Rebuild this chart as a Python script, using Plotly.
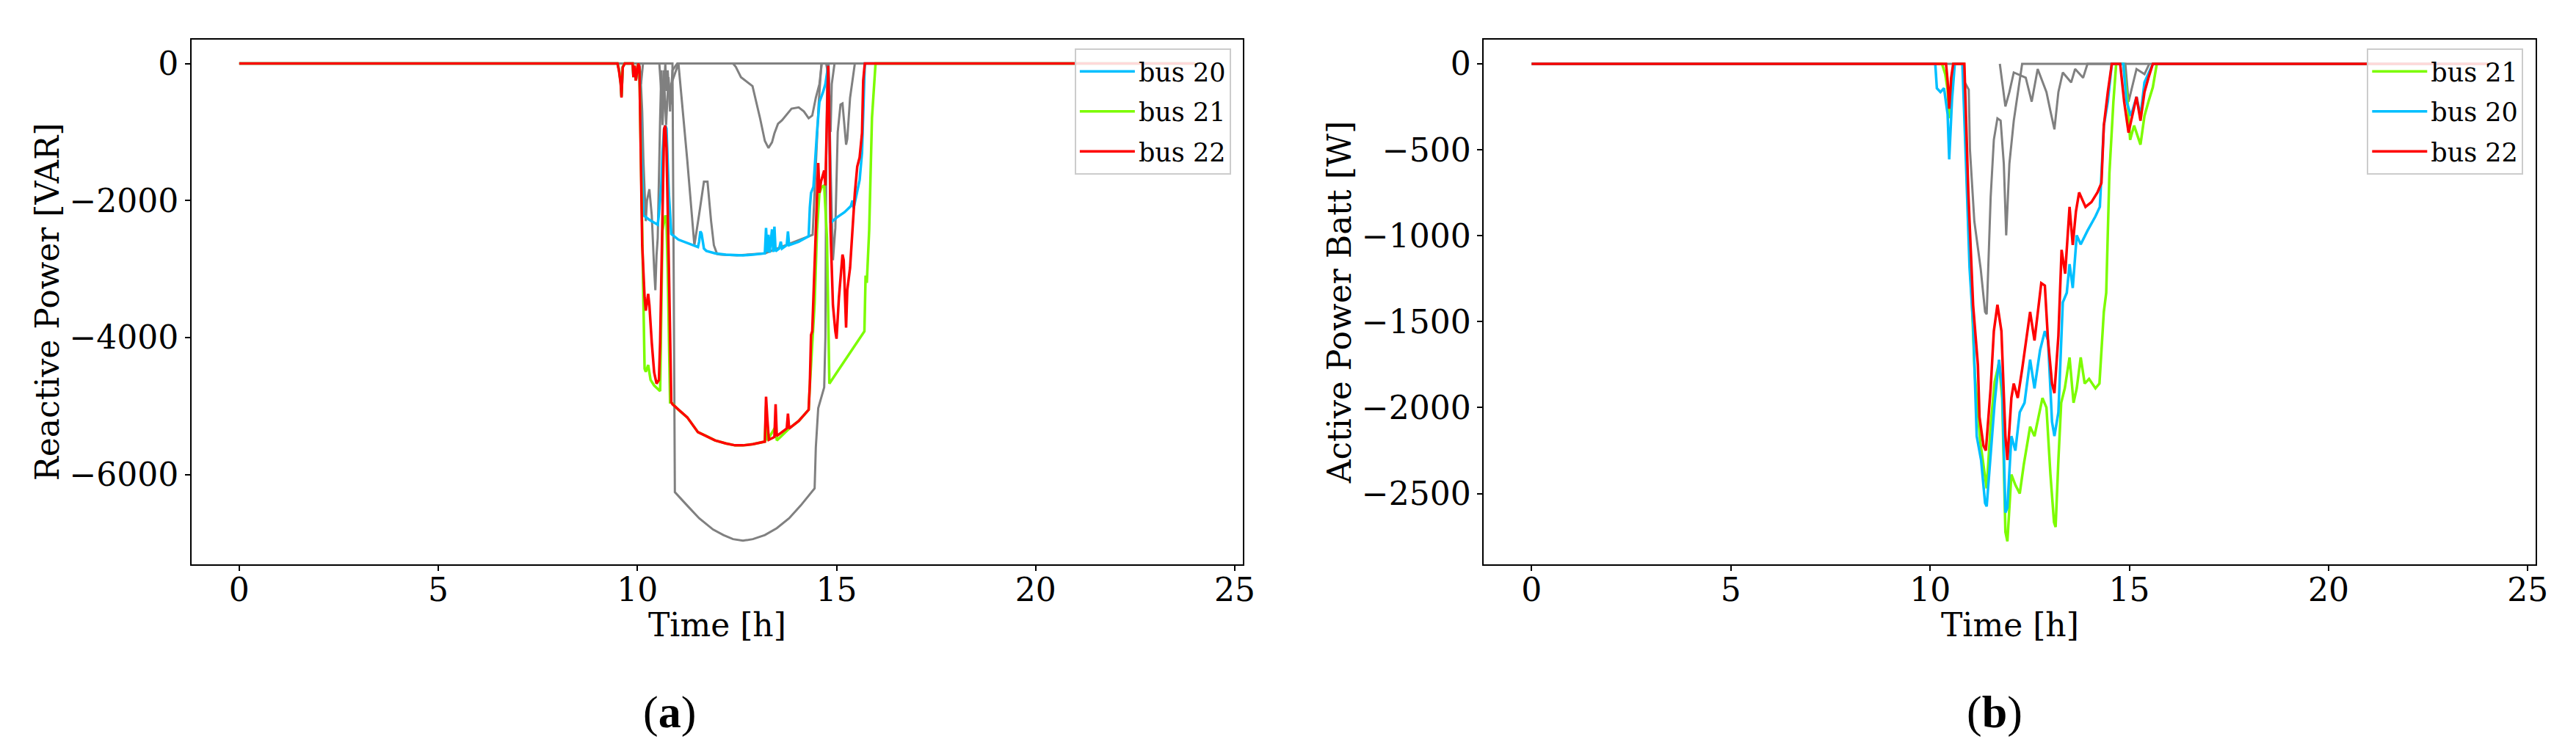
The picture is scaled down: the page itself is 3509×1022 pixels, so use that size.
import plotly.graph_objects as go

# ---------------- Panel (a): Reactive Power [VAR] ----------------
a_t_bus20 = [0, 9.50, 9.54, 9.58, 9.60, 9.63, 9.68, 9.88, 9.90, 9.93, 9.96, 10.02, 10.05, 10.09, 10.12, 10.15,
             10.30, 10.45, 10.51, 10.54, 10.60, 10.63, 10.67, 10.70, 10.73, 10.79, 10.85, 11.03, 11.25, 11.52,
             11.55, 11.58, 11.61, 11.67, 11.73, 11.95, 12.22, 12.45, 12.65, 12.90, 13.20, 13.23, 13.26, 13.29,
             13.32, 13.38, 13.41, 13.44, 13.47, 13.56, 13.60, 13.63, 13.75, 13.78, 13.81, 14.05, 14.30, 14.33,
             14.36, 14.42, 14.45, 14.51, 14.57, 14.63, 14.66, 14.72, 14.79, 14.82, 14.85, 15.00, 15.20, 15.36,
             15.40, 15.43, 15.52, 15.58, 15.64, 15.67, 15.71, 24]
a_v_bus20 = [0, 0, -100, -280, -480, -50, 0, 0, -200, -30, -250, 0, -100, -1100, -1800, -2216,
             -2280, -2330, -2352, -2200, -1780, -1300, -950, -906, -950, -1900, -2488, -2570, -2620, -2679,
             -2600, -2450, -2480, -2700, -2734, -2770, -2789, -2795, -2800, -2790, -2770, -2400, -2750, -2500,
             -2760, -2420, -2750, -2380, -2740, -2700, -2600, -2700, -2650, -2450, -2650, -2600, -2521, -2100,
             -1888, -1800, -1500, -1000, -560, -480, -420, -300, -33, -800, -2325, -2250, -2170, -2080,
             -2000, -2112, -1888, -1700, -1300, -600, 0, 0]

a_t_bus21 = [0, 9.50, 9.54, 9.58, 9.60, 9.63, 9.68, 9.88, 9.90, 9.93, 9.96, 10.02, 10.05, 10.12, 10.18, 10.21,
             10.27, 10.33, 10.42, 10.57, 10.60, 10.63, 10.70, 10.73, 10.76, 10.82, 10.85, 11.03, 11.25, 11.52,
             11.73, 11.95, 12.22, 12.45, 12.65, 12.90, 13.20, 13.23, 13.26, 13.47, 13.50, 13.81, 14.05, 14.30,
             14.33, 14.36, 14.45, 14.51, 14.57, 14.63, 14.69, 14.76, 14.82, 15.70, 15.73, 15.76, 15.82, 15.89,
             15.98, 24]
a_v_bus21 = [0, 0, -100, -280, -480, -50, 0, 0, -200, -30, -250, 0, -100, -2600, -4453, -4500,
             -4398, -4617, -4698, -4780, -3500, -2434, -2216, -2300, -2980, -4944, -4944, -5053, -5162, -5380,
             -5435, -5500, -5544, -5572, -5572, -5555, -5517, -5000, -5500, -5300, -5500, -5326, -5217, -5053,
             -4700, -4398, -3500, -2434, -1888, -1800, -1779, -2548, -4671, -3907, -3094, -3200, -2434, -797,
             0, 0]

a_t_bus22 = [0, 9.50, 9.54, 9.58, 9.60, 9.63, 9.68, 9.88, 9.90, 9.93, 9.96, 10.02, 10.05, 10.12, 10.18, 10.21,
             10.27, 10.30, 10.36, 10.42, 10.48, 10.54, 10.57, 10.63, 10.67, 10.70, 10.73, 10.79, 10.85, 10.88,
             11.03, 11.25, 11.52, 11.73, 11.95, 12.22, 12.45, 12.65, 12.90, 13.20, 13.23, 13.26, 13.30, 13.44,
             13.47, 13.50, 13.75, 13.78, 13.81, 14.05, 14.30, 14.33, 14.36, 14.39, 14.45, 14.51, 14.54, 14.57,
             14.61, 14.69, 14.72, 14.79, 14.82, 14.85, 14.91, 14.97, 15.00, 15.06, 15.15, 15.18, 15.24, 15.27,
             15.34, 15.40, 15.46, 15.52, 15.58, 15.64, 15.67, 15.71, 24]
a_v_bus22 = [0, 0, -120, -300, -497, -60, 0, 0, -200, -30, -250, 0, -50, -2652, -3416, -3607,
             -3362, -3525, -4071, -4507, -4671, -4617, -4071, -2434, -960, -906, -1233, -2980, -4944, -4971,
             -5053, -5162, -5380, -5435, -5500, -5544, -5572, -5572, -5555, -5517, -4862, -5162, -5490, -5450,
             -4971, -5435, -5326, -5108, -5326, -5217, -5053, -4671, -3962, -3907, -2980, -1834, -1452, -1888,
             -1724, -1561, -1779, -33, -797, -2434, -3525, -3907, -4016, -3416, -2789, -2870, -3853, -3307,
             -2980, -2434, -1888, -1506, -1370, -1015, -251, 0, 0]

a_t_gray1 = [0, 10.88, 10.91, 10.94, 11.25, 11.55, 11.90, 12.16, 12.40, 12.65, 12.90, 13.20, 13.50, 13.81,
             14.10, 14.45, 14.48, 14.54, 14.69, 14.72, 14.74, 14.77, 18]
a_v_gray1 = [0, 0, -3000, -6254, -6450, -6636, -6800, -6881, -6940, -6963, -6940, -6881, -6780, -6636,
             -6450, -6199, -5600, -5031, -4726, -4000, -1500, 0, 0]

a_t_gray2 = [12.40, 12.47, 12.60, 12.71, 12.89, 13.08, 13.20, 13.29, 13.38, 13.44, 13.53, 13.63, 13.75, 13.87,
             14.05, 14.18, 14.30, 14.39, 14.48, 14.57, 14.63]
a_v_gray2 = [0, -50, -200, -250, -330, -800, -1130, -1233, -1150, -1020, -880, -829, -750, -660,
             -640, -700, -800, -760, -500, -300, 0]

a_t_gray3 = [10.02, 10.08, 10.12, 10.15, 10.21, 10.24, 10.30, 10.36, 10.42, 10.45, 10.48, 10.51, 10.57, 10.60,
             10.63, 10.67, 10.70, 10.73, 10.76, 10.82, 10.85, 10.91, 11.03, 11.25, 11.43, 11.55, 11.67, 11.76,
             11.85, 11.92, 12.00, 12.10, 12.50, 13.20, 14.30, 14.40, 14.55, 14.62, 14.80, 14.85, 14.91, 14.97,
             15.03, 15.10, 15.15, 15.24, 15.27, 15.34, 15.46]
a_v_gray3 = [0, -200, -700, -1400, -2300, -2000, -1834, -2216, -3000, -3307, -2800, -2543, -800, -100,
             -900, -300, 0, -400, -100, -700, -300, -200, 0, -1400, -2652, -2200, -1724, -1724,
             -2300, -2652, -2780, -2790, -2800, -2770, -2530, -2500, -600, 0, 0, -1500, -2870, -2400,
             -1000, -600, -584, -1184, -1100, -500, 0]

a_t_gray4 = [10.05, 10.09, 10.14, 10.55, 10.62, 10.66, 10.72, 10.78, 10.83, 10.88, 11.00, 14.74, 14.80, 14.85,
             14.88, 14.95]
a_v_gray4 = [0, -300, 0, 0, -600, -100, -900, -200, -600, -100, 0, 0, -200, -1000, -300, 0]

# ---------------- Panel (b): Active Power Batt [W] ----------------
b_t_bus21 = [0, 10.30, 10.38, 10.44, 10.48, 10.53, 10.60, 10.84, 10.93, 11.03, 11.12, 11.26, 11.42, 11.52,
             11.62, 11.73, 11.81, 11.89, 11.94, 12.04, 12.14, 12.25, 12.35, 12.51, 12.62, 12.72, 12.82, 12.92,
             13.02, 13.11, 13.15, 13.22, 13.29, 13.38, 13.43, 13.50, 13.60, 13.68, 13.78, 13.88, 13.99, 14.15,
             14.25, 14.36, 14.42, 14.50, 14.60, 14.67, 14.85, 14.95, 15.02, 15.12, 15.28, 15.38, 15.48, 15.59,
             15.69, 24]
b_v_bus21 = [0, 0, -60, -150, -317, -100, 0, 0, -700, -1300, -1800, -2200, -2470, -2100,
             -1850, -1740, -1950, -2723, -2778, -2389, -2450, -2500, -2333, -2111, -2166, -2055, -1944, -2000,
             -2389, -2667, -2695, -2305, -1972, -1888, -1805, -1708, -1972, -1888, -1708, -1860, -1833, -1888,
             -1860, -1443, -1332, -637, -220, 0, 0, -200, -442, -359, -470, -303, -220, -136,
             0, 0]

b_t_bus20 = [0, 10.13, 10.17, 10.26, 10.35, 10.44, 10.48, 10.55, 10.62, 10.81, 10.90, 10.99, 11.08, 11.17,
             11.28, 11.38, 11.42, 11.52, 11.62, 11.73, 11.81, 11.89, 11.94, 12.04, 12.14, 12.25, 12.37, 12.51,
             12.62, 12.76, 12.88, 12.96, 13.06, 13.12, 13.22, 13.33, 13.43, 13.50, 13.58, 13.68, 13.78, 13.95,
             14.15, 14.26, 14.36, 14.46, 14.56, 14.85, 14.93, 15.04, 15.18, 15.28, 15.38, 15.59, 24]
b_v_bus20 = [0, 0, -142, -164, -142, -294, -556, -209, 0, 0, -577, -1186, -1514, -2166,
             -2305, -2556, -2575, -2250, -1972, -1721, -1888, -2611, -2583, -2166, -2250, -2027, -1972, -1721,
             -1888, -1666, -1555, -1610, -2083, -2166, -2027, -1388, -1332, -1165, -1304, -998, -1050, -971,
             -887, -832, -359, -220, 0, 0, -220, -303, -192, -303, -108, 0, 0]

b_t_bus22 = [0, 10.40, 10.44, 10.48, 10.53, 10.58, 10.86, 10.96, 11.08, 11.20, 11.24, 11.34, 11.40, 11.52,
             11.60, 11.69, 11.79, 11.89, 11.94, 12.04, 12.10, 12.20, 12.31, 12.41, 12.51, 12.62, 12.72, 12.79,
             12.88, 12.96, 13.06, 13.12, 13.22, 13.30, 13.39, 13.50, 13.58, 13.66, 13.74, 13.90, 14.05, 14.20,
             14.30, 14.36, 14.46, 14.56, 14.77, 14.87, 14.98, 15.08, 15.18, 15.28, 15.38, 15.48, 15.59, 24]
b_v_bus22 = [0, 0, -100, -261, -80, 0, 0, -751, -1404, -1753, -2055, -2222, -2250, -1888,
             -1555, -1402, -1555, -2166, -2305, -1944, -1860, -1944, -1777, -1610, -1443, -1610, -1416, -1276,
             -1290, -1610, -1860, -1916, -1582, -1082, -1221, -832, -1054, -859, -748, -832, -804, -748,
             -693, -359, -164, 0, 0, -220, -400, -303, -192, -331, -164, -81, 0, 0]

b_t_gray1 = [0, 10.85, 10.87, 10.97, 11.00, 11.11, 11.27, 11.38, 11.42, 11.52, 11.60, 11.69, 11.77, 11.85,
             11.91, 11.99, 12.10, 12.20, 12.31, 24]
b_v_gray1 = [0, 0, -108, -150, -498, -915, -1193, -1443, -1457, -776, -442, -317, -330, -581,
             -998, -581, -331, -164, 0, 0]

b_t_gray2 = [11.75, 11.89, 11.99, 12.10, 12.40, 12.55, 12.70, 12.92, 13.02, 13.12, 13.22, 13.33, 13.54, 13.64,
             13.84, 13.95, 14.90, 14.98, 15.18, 15.38, 15.50]
b_v_gray2 = [0, -248, -164, -50, -80, -220, -30, -164, -275, -381, -164, -50, -108, -30,
             -81, 0, 0, -220, -30, -60, 0]

x_ticks = [0, 5, 10, 15, 20, 25]
a_y_ticks = [0, -2000, -4000, -6000]
b_y_ticks = [0, -500, -1000, -1500, -2000, -2500]

BLUE = "#00BFFF"
GREEN = "#7CFC00"
RED = "#FF0000"
GRAY = "#808080"
FONT = "DejaVu Serif"

fig = go.Figure()


def add(t, v, color, xa, ya, name=None, legend=None):
    fig.add_trace(go.Scatter(
        x=t, y=v, mode="lines", xaxis=xa, yaxis=ya,
        line=dict(color=color, width=3.5 if name else 3),
        name=name if name else "other bus",
        showlegend=name is not None,
        legend=legend if legend else "legend",
        legendgroup=(legend or "") + (name or "other"),
        hoverinfo="x+y+name",
    ))


# panel a
for t, v in [(a_t_gray1, a_v_gray1), (a_t_gray2, a_v_gray2), (a_t_gray3, a_v_gray3), (a_t_gray4, a_v_gray4)]:
    add(t, v, GRAY, "x", "y")
add(a_t_bus20, a_v_bus20, BLUE, "x", "y", "bus 20", "legend")
add(a_t_bus21, a_v_bus21, GREEN, "x", "y", "bus 21", "legend")
add(a_t_bus22, a_v_bus22, RED, "x", "y", "bus 22", "legend")

# panel b
for t, v in [(b_t_gray1, b_v_gray1), (b_t_gray2, b_v_gray2)]:
    add(t, v, GRAY, "x2", "y2")
add(b_t_bus21, b_v_bus21, GREEN, "x2", "y2", "bus 21", "legend2")
add(b_t_bus20, b_v_bus20, BLUE, "x2", "y2", "bus 20", "legend2")
add(b_t_bus22, b_v_bus22, RED, "x2", "y2", "bus 22", "legend2")

W, H = 3509, 1022
axis_common = dict(
    showline=True, linecolor="black", linewidth=1.5, mirror=True,
    ticks="outside", ticklen=7, tickwidth=1.5, tickcolor="black",
    showgrid=False, zeroline=False,
    tickfont=dict(family=FONT, size=44, color="black"),
)
ydom = [1 - 761 / H, 1 - 46 / H]
xdom_a = [254 / W, 1693 / W]
xdom_b = [2023 / W, 3463 / W]

legend_common = dict(
    yanchor="top", xanchor="right",
    bgcolor="rgba(255,255,255,0.85)", bordercolor="#cccccc", borderwidth=2,
    font=dict(family=FONT, size=35, color="black"), itemwidth=75, tracegroupgap=6,
)

text_ann = []
for xd in (xdom_a, xdom_b):
    text_ann.append(dict(text="Time [h]", x=(xd[0] + xd[1]) / 2, y=1 - 843 / H, xref="paper", yref="paper",
                         xanchor="center", yanchor="middle", showarrow=False,
                         font=dict(family=FONT, size=44, color="black")))
for lab, xc in (("a", 908), ("b", 2722)):
    text_ann.append(dict(text="(<b>%s</b>)" % lab, x=xc / W, y=1 - 962 / H, xref="paper", yref="paper",
                         xanchor="center", yanchor="middle", showarrow=False,
                         font=dict(family="Liberation Serif", size=62, color="black")))

fig.update_layout(
    width=W, height=H,
    margin=dict(l=0, r=0, t=0, b=0),
    paper_bgcolor="white", plot_bgcolor="white",
    font=dict(family=FONT, color="black"),
    xaxis=dict(domain=xdom_a, range=[-1.2, 25.2], tickvals=x_ticks, anchor="y",
               ticklabelstandoff=-12, **axis_common),
    yaxis=dict(domain=ydom, range=[-7308, 348], tickvals=a_y_ticks, anchor="x",
               title=dict(text="Reactive Power [VAR]", font=dict(family=FONT, size=44), standoff=0),
               **axis_common),
    xaxis2=dict(domain=xdom_b, range=[-1.2, 25.2], tickvals=x_ticks, anchor="y2",
                ticklabelstandoff=-12, **axis_common),
    yaxis2=dict(domain=ydom, range=[-2912, 141], tickvals=b_y_ticks, anchor="x2",
                title=dict(text="Active Power Batt [W]", font=dict(family=FONT, size=44), standoff=0),
                **axis_common),
    legend=dict(x=1677 / W, y=1 - 58 / H, **legend_common),
    legend2=dict(x=3446 / W, y=1 - 58 / H, **legend_common),
    annotations=text_ann,
)

fig.write_html("out.html")
